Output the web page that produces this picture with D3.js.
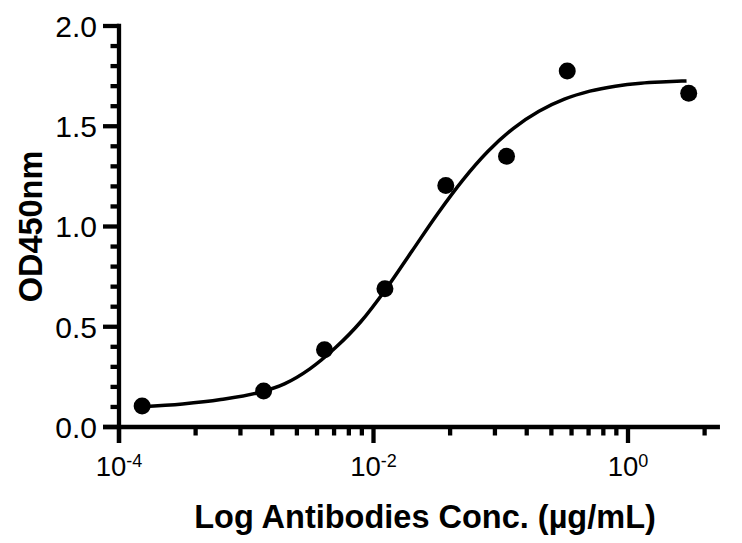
<!DOCTYPE html>
<html>
<head>
<meta charset="utf-8">
<script src="https://cdn.jsdelivr.net/npm/d3@7"></script>
<style>
  html, body { margin: 0; padding: 0; background: #fff; }
  svg { display: block; }
  text { font-family: "Liberation Sans", Arial, Helvetica, sans-serif; fill: #000; }
</style>
</head>
<body>
<svg id="chart" width="742" height="543"></svg>
<script>
// ---- data ----
const concentrations = [0.000152, 0.00137, 0.00412, 0.0123, 0.037, 0.111, 0.333, 3.0]; // µg/mL
const od450 = [0.105, 0.18, 0.385, 0.69, 1.205, 1.35, 1.775, 1.665];

// fitted curve (log10 concentration, OD)
const curveLogConc = [-3.827, -3.5, -3.2, -2.9, -2.7, -2.5, -2.3, -2.1, -1.9, -1.7, -1.5, -1.3, -1.1, -0.9, -0.7, -0.5, -0.3, -0.1, 0.1, 0.3, 0.46];
const curveOD      = [0.101, 0.115, 0.137, 0.172, 0.215, 0.29, 0.395, 0.525, 0.69, 0.875, 1.06, 1.23, 1.375, 1.49, 1.575, 1.635, 1.675, 1.70, 1.715, 1.722, 1.726];

const xMajorTicks = [1e-4, 1e-2, 1e0];
const xMajorExp = ["-4", "-2", "0"];
const yMajorTicks = [0, 0.5, 1.0, 1.5, 2.0];
const yMinorTicks = [0.1, 0.2, 0.3, 0.4, 0.6, 0.7, 0.8, 0.9, 1.1, 1.2, 1.3, 1.4, 1.6, 1.7, 1.8, 1.9];
const xMinorTicks = [4e-4, 9e-4, 1.6e-3, 2.5e-3, 3.6e-3, 4.9e-3, 6.4e-3, 8.1e-3,
                     4e-2, 9e-2, 1.6e-1, 2.5e-1, 3.6e-1, 4.9e-1, 6.4e-1, 8.1e-1, 4];
const xAxisEnd = 5.28;
const yLabel = "OD450nm";
const xLabel = "Log Antibodies Conc. (µg/mL)";

// ---- layout ----
const svg = d3.select("#chart");
const x0 = 119, x1 = 628, yTop = 26, yBot = 427;
const x = d3.scaleLog().domain([1e-4, 1]).range([x0, x1]);
const y = d3.scaleLinear().domain([0, 2]).range([yBot, yTop]);

const axisW = 4.3, majorLen = 16, minorLen = 8.5;

// Y axis
const gy = svg.append("g");
gy.append("line").attr("x1", x0).attr("x2", x0).attr("y1", y(2) - axisW / 2).attr("y2", yBot + majorLen)
  .attr("stroke", "#000").attr("stroke-width", axisW);
gy.selectAll("line.ymaj").data(yMajorTicks).join("line").attr("class", "ymaj")
  .attr("x1", x0 - majorLen).attr("x2", x0).attr("y1", d => y(d)).attr("y2", d => y(d))
  .attr("stroke", "#000").attr("stroke-width", axisW);
gy.selectAll("line.ymin").data(yMinorTicks).join("line").attr("class", "ymin")
  .attr("x1", x0 - minorLen).attr("x2", x0).attr("y1", d => y(d)).attr("y2", d => y(d))
  .attr("stroke", "#000").attr("stroke-width", axisW);
gy.selectAll("text").data(yMajorTicks).join("text")
  .attr("x", x0 - majorLen - 6).attr("y", d => y(d)).attr("dy", "0.36em")
  .attr("text-anchor", "end").attr("font-size", 30)
  .text(d => d3.format(".1f")(d));

// X axis
const gx = svg.append("g");
gx.append("line").attr("x1", x0 - majorLen).attr("x2", x(xAxisEnd)).attr("y1", yBot).attr("y2", yBot)
  .attr("stroke", "#000").attr("stroke-width", axisW);
gx.selectAll("line.xmaj").data(xMajorTicks).join("line").attr("class", "xmaj")
  .attr("x1", d => x(d)).attr("x2", d => x(d)).attr("y1", yBot).attr("y2", yBot + majorLen)
  .attr("stroke", "#000").attr("stroke-width", axisW);
gx.selectAll("line.xmin").data(xMinorTicks).join("line").attr("class", "xmin")
  .attr("x1", d => x(d)).attr("x2", d => x(d)).attr("y1", yBot).attr("y2", yBot + minorLen)
  .attr("stroke", "#000").attr("stroke-width", axisW);
const xl = gx.selectAll("text").data(xMajorTicks).join("text")
  .attr("x", d => x(d)).attr("y", 476).attr("text-anchor", "middle").attr("font-size", 27.5);
xl.append("tspan").text("10");
xl.append("tspan").attr("font-size", 18).attr("dy", -9).text((d, i) => xMajorExp[i]);

// Titles
svg.append("text").attr("transform", `translate(42,${(yTop + yBot) / 2}) rotate(-90)`)
  .attr("text-anchor", "middle").attr("font-weight", "bold").attr("font-size", 32.5).text(yLabel);
svg.append("text").attr("x", 425).attr("y", 528)
  .attr("text-anchor", "middle").attr("font-weight", "bold").attr("font-size", 32.5).text(xLabel);

// Curve
const curveData = curveLogConc.map((lc, i) => [Math.pow(10, lc), curveOD[i]]);
svg.append("path").datum(curveData)
  .attr("fill", "none").attr("stroke", "#000").attr("stroke-width", 3.5)
  .attr("d", d3.line().x(d => x(d[0])).y(d => y(d[1])).curve(d3.curveMonotoneX));

// Points
svg.selectAll("circle").data(concentrations).join("circle")
  .attr("cx", d => x(d)).attr("cy", (d, i) => y(od450[i])).attr("r", 8.5).attr("fill", "#000");
</script>
</body>
</html>
